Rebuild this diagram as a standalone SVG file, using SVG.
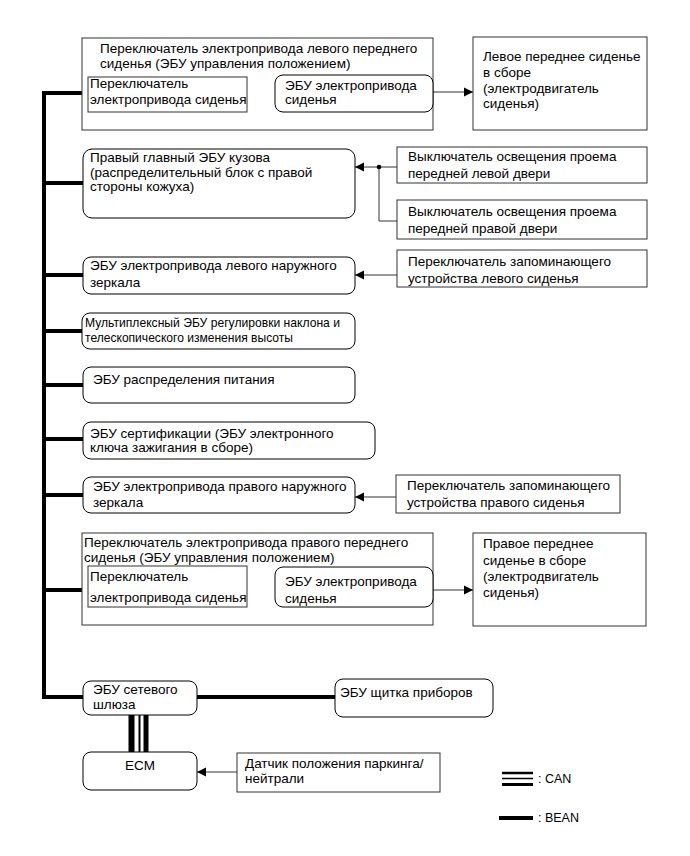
<svg xmlns="http://www.w3.org/2000/svg" width="690" height="856" viewBox="0 0 690 856">
<style>
text{font-family:"Liberation Sans",Arial,sans-serif;font-size:13.5px;fill:#000}
.box{fill:#fff;stroke:#333;stroke-width:1}
.rbox{fill:#fff;stroke:#000;stroke-width:1}
.bean{stroke:#000;stroke-width:4;fill:none}
.thin{stroke:#333;stroke-width:1;fill:none}
.leg{font-size:12.5px}
</style>
<defs>
<marker id="ah" markerWidth="10" markerHeight="10" refX="9" refY="5" orient="auto" markerUnits="userSpaceOnUse">
<path d="M0,0.5 L9,5 L0,9.5 Z" fill="#000"/>
</marker>
</defs>
<rect width="690" height="856" fill="#fff"/>

<g id="connectors">
<path class="bean" d="M82,93 H44 V697 H83"/>
<path class="bean" d="M44,183 H83"/>
<path class="bean" d="M44,275 H83"/>
<path class="bean" d="M44,331 H82"/>
<path class="bean" d="M44,385 H83"/>
<path class="bean" d="M44,439 H83"/>
<path class="bean" d="M44,495 H83"/>
<path class="bean" d="M44,590 H82"/>
<path class="bean" d="M197,697 H335"/>
<g id="can">
<line x1="131.5" y1="715" x2="131.5" y2="752" stroke="#000" stroke-width="6"/>
<line x1="139.5" y1="715" x2="139.5" y2="752" stroke="#000" stroke-width="2"/>
<line x1="146" y1="715" x2="146" y2="752" stroke="#000" stroke-width="5"/>
</g>
<line class="thin" x1="247" y1="92" x2="275" y2="92" marker-end="url(#ah)"/>
<line class="thin" x1="433" y1="92" x2="473" y2="92" marker-end="url(#ah)"/>
<line class="thin" x1="397" y1="167" x2="355" y2="167" marker-end="url(#ah)"/>
<path class="thin" d="M379,167 V221 H397"/>
<circle cx="379" cy="167" r="2.3" fill="#000"/>
<line class="thin" x1="397" y1="275" x2="355" y2="275" marker-end="url(#ah)"/>
<line class="thin" x1="396" y1="497" x2="355" y2="497" marker-end="url(#ah)"/>
<line class="thin" x1="247" y1="590" x2="275" y2="590" marker-end="url(#ah)"/>
<line class="thin" x1="433" y1="590" x2="473" y2="590" marker-end="url(#ah)"/>
<line class="thin" x1="237" y1="772" x2="197" y2="772" marker-end="url(#ah)"/>
</g>

<g id="left-seat-switch">
<rect class="box" x="82" y="38" width="351" height="92"/>
<text x="100" y="53">Переключатель электропривода левого переднего</text>
<text x="100" y="68">сиденья (ЭБУ управления положением)</text>
<g id="left-seat-switch-sw">
<rect class="box" x="88" y="77" width="159" height="35"/>
<text x="90" y="88">Переключатель</text>
<text x="90" y="104">электропривода сиденья</text>
</g>
<g id="left-seat-ecu">
<rect class="rbox" x="275" y="75" width="158" height="37" rx="8"/>
<text x="285" y="90">ЭБУ электропривода</text>
<text x="285" y="104">сиденья</text>
</g>
</g>

<g id="left-seat-assy">
<rect class="box" x="473" y="37" width="174" height="93"/>
<text x="483" y="61">Левое переднее сиденье</text>
<text x="483" y="77">в сборе</text>
<text x="483" y="93">(электродвигатель</text>
<text x="483" y="108">сиденья)</text>
</g>

<g id="main-body-ecu">
<rect class="rbox" x="83" y="149" width="272" height="69" rx="9"/>
<text x="90" y="162">Правый главный ЭБУ кузова</text>
<text x="90" y="177">(распределительный блок с правой</text>
<text x="90" y="191">стороны кожуха)</text>
</g>

<g id="door-sw-left">
<rect class="box" x="397" y="147" width="250" height="36"/>
<text x="408" y="161">Выключатель освещения проема</text>
<text x="408" y="178">передней левой двери</text>
</g>

<g id="door-sw-right">
<rect class="box" x="397" y="200" width="250" height="39"/>
<text x="408" y="216">Выключатель освещения проема</text>
<text x="408" y="233">передней правой двери</text>
</g>

<g id="left-mirror-ecu">
<rect class="rbox" x="83" y="257" width="272" height="37" rx="8"/>
<text x="90" y="270">ЭБУ электропривода левого наружного</text>
<text x="90" y="287">зеркала</text>
</g>

<g id="left-memory-sw">
<rect class="box" x="397" y="250" width="250" height="37"/>
<text x="408" y="266">Переключатель запоминающего</text>
<text x="408" y="283">устройства левого сиденья</text>
</g>

<g id="tilt-tele-ecu">
<rect class="rbox" x="82" y="313" width="273" height="36" rx="8"/>
<text x="85" y="327" textLength="255" lengthAdjust="spacingAndGlyphs">Мультиплексный ЭБУ регулировки наклона и</text>
<text x="85" y="342" textLength="208" lengthAdjust="spacingAndGlyphs">телескопического изменения высоты</text>
</g>

<g id="power-dist-ecu">
<rect class="rbox" x="83" y="367" width="272" height="36" rx="8"/>
<text x="93" y="384">ЭБУ распределения питания</text>
</g>

<g id="cert-ecu">
<rect class="rbox" x="83" y="422" width="292" height="37" rx="8"/>
<text x="90" y="438">ЭБУ сертификации (ЭБУ электронного</text>
<text x="90" y="452">ключа зажигания в сборе)</text>
</g>

<g id="right-mirror-ecu">
<rect class="rbox" x="83" y="477" width="272" height="36" rx="8"/>
<text x="93" y="491">ЭБУ электропривода правого наружного</text>
<text x="93" y="507">зеркала</text>
</g>

<g id="right-memory-sw">
<rect class="box" x="396" y="475" width="224" height="38"/>
<text x="407" y="490">Переключатель запоминающего</text>
<text x="407" y="507">устройства правого сиденья</text>
</g>

<g id="right-seat-switch">
<rect class="box" x="82" y="533" width="351" height="92"/>
<text x="84" y="547">Переключатель электропривода правого переднего</text>
<text x="84" y="562">сиденья (ЭБУ управления положением)</text>
<g id="right-seat-switch-sw">
<rect class="box" x="88" y="566" width="159" height="41"/>
<text x="90" y="581">Переключатель</text>
<text x="90" y="602">электропривода сиденья</text>
</g>
<g id="right-seat-ecu">
<rect class="rbox" x="275" y="567" width="158" height="40" rx="8"/>
<text x="285" y="586">ЭБУ электропривода</text>
<text x="285" y="603">сиденья</text>
</g>
</g>

<g id="right-seat-assy">
<rect class="box" x="473" y="533" width="173" height="93"/>
<text x="483" y="548">Правое переднее</text>
<text x="483" y="565">сиденье в сборе</text>
<text x="483" y="581">(электродвигатель</text>
<text x="483" y="597">сиденья)</text>
</g>

<g id="gateway-ecu">
<rect class="rbox" x="83" y="681" width="114" height="34" rx="8"/>
<text x="93" y="694">ЭБУ сетевого</text>
<text x="93" y="709">шлюза</text>
</g>

<g id="meter-ecu">
<rect class="rbox" x="335" y="679" width="158" height="38" rx="8"/>
<text x="340" y="697">ЭБУ щитка приборов</text>
</g>

<g id="ecm">
<rect class="rbox" x="83" y="752" width="114" height="38" rx="8"/>
<text x="140" y="770" text-anchor="middle">ECM</text>
</g>

<g id="pn-sensor">
<rect class="box" x="237" y="753" width="203" height="39"/>
<text x="245" y="768">Датчик положения паркинга/</text>
<text x="245" y="783">нейтрали</text>
</g>

<g id="legend">
<line x1="502" y1="773" x2="533" y2="773" stroke="#000" stroke-width="2.5"/>
<line x1="502" y1="778.5" x2="533" y2="778.5" stroke="#000" stroke-width="1.5"/>
<line x1="502" y1="784.5" x2="533" y2="784.5" stroke="#000" stroke-width="3"/>
<text class="leg" x="538" y="783">: CAN</text>
<line x1="499" y1="818" x2="533" y2="818" stroke="#000" stroke-width="4"/>
<text class="leg" x="538" y="822">: BEAN</text>
</g>
</svg>
